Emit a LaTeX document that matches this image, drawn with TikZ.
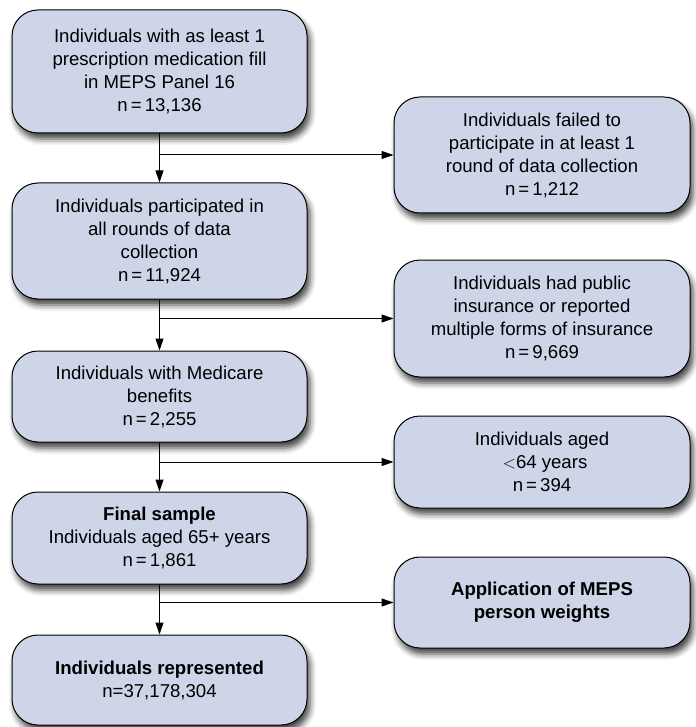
\documentclass[tikz,border=0pt]{standalone}
\usepackage{fontspec}
\setmainfont{Liberation Sans}
\usetikzlibrary{arrows.meta,shadows.blur}
\definecolor{boxfill}{RGB}{206,213,233}
\tikzset{
  flowbox/.style={draw=black, line width=1pt, fill=boxfill, rounded corners=26pt,
    minimum width=295pt, align=center, inner sep=0pt,
    font=\fontsize{18.6}{23}\selectfont,
    blur shadow={shadow xshift=3pt, shadow yshift=-6pt, shadow blur radius=6pt, shadow opacity=75}},
  arr/.style={draw=black, line width=1pt, -{Triangle[length=12pt,width=8pt]}},
  seg/.style={draw=black, line width=1pt}
}
\begin{document}
\begin{tikzpicture}[x=1pt,y=-1pt]
\useasboundingbox (0,0) rectangle (695,727);
\node[flowbox, minimum height=123pt] (b1) at (159.5,71.5) {Individuals with as least 1\\prescription medication fill\\in MEPS Panel 16\\n\,=\,13,136};
\node[flowbox, minimum height=116pt] (b2) at (159.5,241) {Individuals participated in\\all rounds of data\\collection\\n\,=\,11,924};
\node[flowbox, minimum height=91pt] (b3) at (159.5,396.5) {Individuals with Medicare\\benefits\\n\,=\,2,255};
\node[flowbox, minimum height=92pt] (b4) at (159.5,538) {\textbf{Final sample}\\Individuals aged 65+ years\\n\,=\,1,861};
\node[flowbox, minimum height=90pt] (b5) at (159.5,680) {\textbf{Individuals represented}\\n=37,178,304};
\node[flowbox, minimum width=296pt, minimum height=116pt] (r1) at (542,155) {Individuals failed to\\participate in at least 1\\round of data collection\\n\,=\,1,212};
\node[flowbox, minimum width=296pt, minimum height=117pt] (r2) at (542,318.5) {Individuals had public\\insurance or reported\\multiple forms of insurance\\n\,=\,9,669};
\node[flowbox, minimum width=296pt, minimum height=92pt] (r3) at (542,462) {Individuals aged\\\,\,$<$64 years\\n\,=\,394};
\node[flowbox, minimum width=296pt, minimum height=91pt] (r4) at (542,602.5) {\textbf{Application of MEPS}\\\textbf{person weights}};
\draw[arr] (b1.south) -- (b2.north);
\draw[arr] (b2.south) -- (b3.north);
\draw[arr] (b3.south) -- (b4.north);
\draw[arr] (b4.south) -- (b5.north);
\draw[arr] (b1.south |- r1.west) -- (r1.west);
\draw[arr] (b2.south |- r2.west) -- (r2.west);
\draw[arr] (b3.south |- r3.west) -- (r3.west);
\draw[arr] (b4.south |- r4.west) -- (r4.west);
\end{tikzpicture}
\end{document}
